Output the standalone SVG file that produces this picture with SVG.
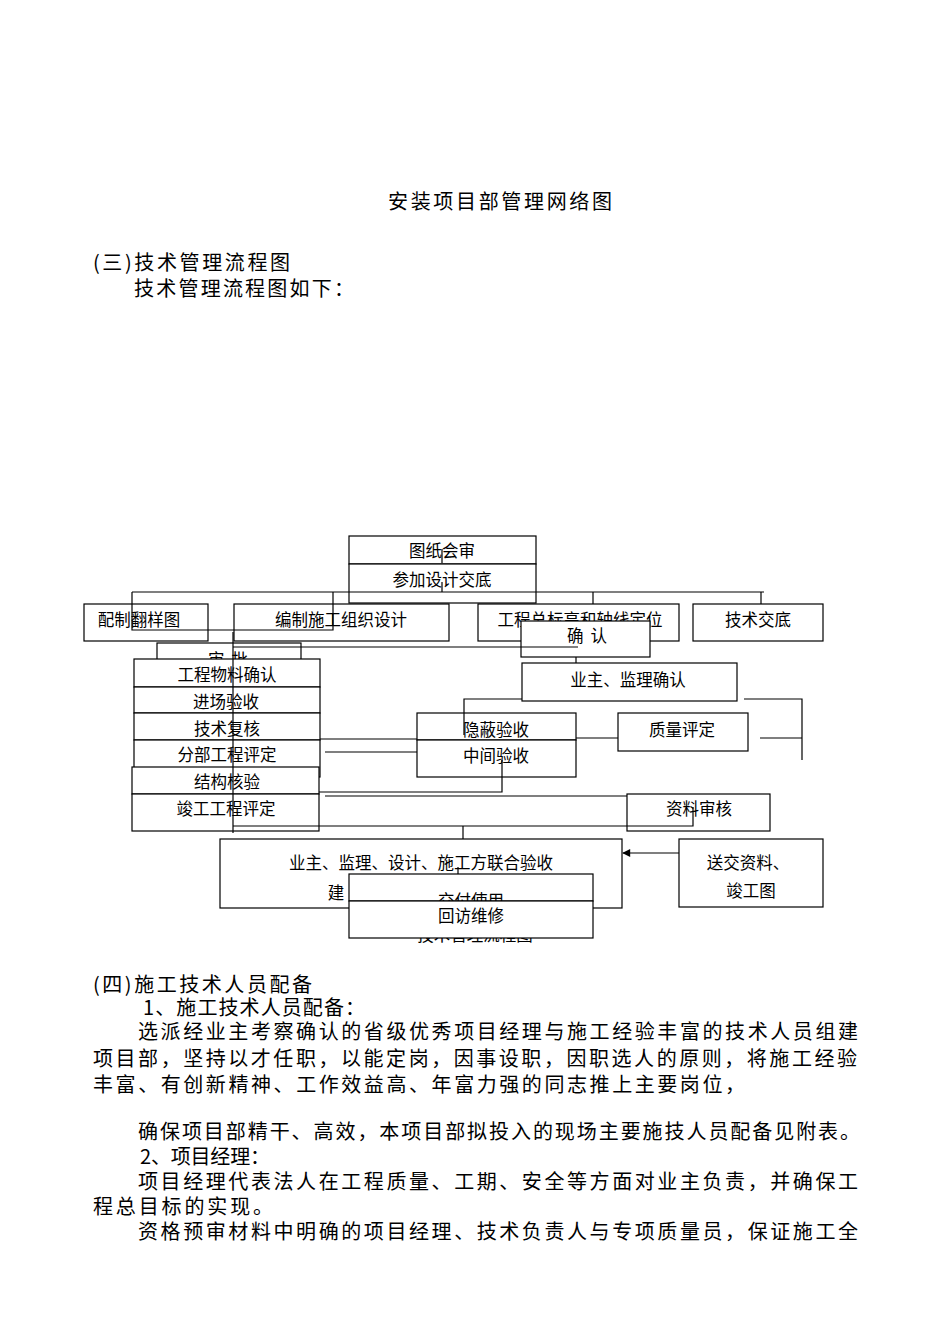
<svg xmlns="http://www.w3.org/2000/svg" width="950" height="1344" viewBox="0 0 950 1344">
<style>
.b{fill:#fff;stroke:#000;stroke-width:1.2}
.t{font-family:"Noto Sans CJK SC","Noto Sans",sans-serif;font-size:16.5px;text-anchor:middle;dominant-baseline:central;fill:#000}
.p{font-family:"Noto Sans CJK SC","Noto Sans",sans-serif;font-size:20px;dominant-baseline:central;fill:#000}
.c{stroke:#000;stroke-width:1.2;fill:none}
</style>
<defs>
<marker id="ah" viewBox="0 0 10 10" refX="9" refY="5" markerWidth="9" markerHeight="8" markerUnits="userSpaceOnUse" orient="auto">
<path d="M0,0 L10,5 L0,10 Z" fill="#000"/>
</marker>
</defs>
<rect x="0" y="0" width="950" height="1344" fill="#fff"/>
<g id="page-text">
<text class="p" x="388" y="200" textLength="224" lengthAdjust="spacing" font-size="18">安装项目部管理网络图</text>
<text class="p" x="93" y="261" textLength="197" lengthAdjust="spacing">(三)技术管理流程图</text>
<text class="p" x="134" y="287" textLength="220" lengthAdjust="spacing">技术管理流程图如下：</text>
<text class="p" x="93" y="983" textLength="219" lengthAdjust="spacing">(四)施工技术人员配备</text>
<text class="p" x="143" y="1006" textLength="222" lengthAdjust="spacing">1、施工技术人员配备：</text>
<text class="p" x="138" y="1030" textLength="720" lengthAdjust="spacing">选派经业主考察确认的省级优秀项目经理与施工经验丰富的技术人员组建</text>
<text class="p" x="93" y="1057" textLength="764" lengthAdjust="spacing">项目部，坚持以才任职，以能定岗，因事设职，因职选人的原则，将施工经验</text>
<text class="p" x="93" y="1083" textLength="652" lengthAdjust="spacing">丰富、有创新精神、工作效益高、年富力强的同志推上主要岗位，</text>
<text class="p" x="138" y="1130" textLength="722" lengthAdjust="spacing">确保项目部精干、高效，本项目部拟投入的现场主要施技人员配备见附表。</text>
<text class="p" x="140" y="1155" textLength="130" lengthAdjust="spacing">2、项目经理：</text>
<text class="p" x="138" y="1180" textLength="720" lengthAdjust="spacing">项目经理代表法人在工程质量、工期、安全等方面对业主负责，并确保工</text>
<text class="p" x="93" y="1205" textLength="180" lengthAdjust="spacing">程总目标的实现。</text>
<text class="p" x="138" y="1230" textLength="720" lengthAdjust="spacing">资格预审材料中明确的项目经理、技术负责人与专项质量员，保证施工全</text>
</g>
<g id="n-tuzhi"><rect class="b" x="349" y="536" width="187" height="28"/><text class="t" x="442" y="550">图纸会审</text></g>
<g id="n-canjia"><rect class="b" x="349" y="564" width="187" height="39"/><text class="t" x="442" y="579">参加设计交底</text></g>
<g id="n-peizhi"><rect class="b" x="84" y="604" width="124" height="37"/><text class="t" x="139" y="619">配制翻样图</text></g>
<g id="n-bianzhi"><rect class="b" x="234" y="604" width="215" height="37"/><text class="t" x="341" y="619">编制施工组织设计</text></g>
<g id="n-biaogao"><rect class="b" x="478" y="604" width="201" height="37"/><text class="t" x="580" y="619">工程总标高和轴线定位</text></g>
<g id="n-jiaodi"><rect class="b" x="693" y="604" width="130" height="37"/><text class="t" x="758" y="619">技术交底</text></g>
<g id="n-queren"><rect class="b" x="521" y="621" width="129" height="36"/><text class="t" x="587" y="635" textLength="40" lengthAdjust="spacing">确 认</text></g>
<g id="n-shenpi"><rect class="b" x="157" y="643" width="144" height="30"/><text class="t" x="228" y="659" textLength="40" lengthAdjust="spacing">审 批</text></g>
<g id="n-wuliao"><rect class="b" x="134" y="659" width="186" height="28"/><text class="t" x="227" y="674" font-size="18">工程物料确认</text></g>
<g id="n-jinchang"><rect class="b" x="134" y="687" width="186" height="26"/><text class="t" x="226" y="701">进场验收</text></g>
<g id="n-fuhe"><rect class="b" x="134" y="713" width="186" height="27"/><text class="t" x="227" y="728">技术复核</text></g>
<g id="n-fenbu"><rect class="b" x="134" y="740" width="186" height="37"/><text class="t" x="227" y="754">分部工程评定</text></g>
<g id="n-jiegou"><rect class="b" x="132" y="767" width="187" height="27"/><text class="t" x="227" y="781">结构核验</text></g>
<g id="n-jungong"><rect class="b" x="132" y="794" width="187" height="37"/><text class="t" x="226" y="808">竣工工程评定</text></g>
<g id="n-yezhu"><rect class="b" x="522" y="663" width="215" height="38"/><text class="t" x="628" y="679">业主、监理确认</text></g>
<g id="n-yinbi"><rect class="b" x="417" y="713" width="159" height="27"/><text class="t" x="496" y="729">隐蔽验收</text></g>
<g id="n-zhongjian"><rect class="b" x="417" y="740" width="159" height="37"/><text class="t" x="496" y="755">中间验收</text></g>
<g id="n-zhiliang"><rect class="b" x="618" y="713" width="130" height="38"/><text class="t" x="682" y="729">质量评定</text></g>
<g id="n-ziliao"><rect class="b" x="627" y="794" width="143" height="37"/><text class="t" x="699" y="808">资料审核</text></g>
<g id="n-lianhe"><rect class="b" x="220" y="839" width="402" height="69"/><text class="t" x="421" y="862">业主、监理、设计、施工方联合验收</text><text class="t" x="336" y="892">建</text></g>
<text class="t" x="475" y="934" font-size="17">技术管理流程图</text>
<g id="n-jiaofu"><rect class="b" x="349" y="874" width="244" height="27"/><text class="t" x="471" y="900">交付使用</text></g>
<g id="n-huifang"><rect class="b" x="349" y="901" width="244" height="37"/><text class="t" x="471" y="915">回访维修</text></g>
<g id="n-songjiao"><rect class="b" x="679" y="839" width="144" height="68"/><text class="t" x="748" y="862">送交资料、</text><text class="t" x="751" y="890">竣工图</text></g>
<g id="connectors" class="c">
<path d="M132,592 H764"/>
<path d="M132,592 V630 H333 V592"/>
<path d="M593,592 V604"/>
<path d="M761,592 V604"/>
<path d="M442,549 V563 M442,582 V592"/>
<path d="M233,632 V833"/>
<path d="M233,647 H578"/>
<path d="M576,657 V663"/>
<path d="M522,699 H464 V735"/>
<path d="M744,699 H802 V760 M760,738 H802"/>
<path d="M576,738 H618"/>
<path d="M320,739 H417 M325,752 H417"/>
<path d="M319,792 H502 V760"/>
<path d="M325,796 H627"/>
<path d="M233,826 H693 V807"/>
<path d="M463,826 V839"/>
<path d="M458,867 V874"/>
<path d="M679,853 H623" marker-end="url(#ah)"/>
</g>
</svg>
